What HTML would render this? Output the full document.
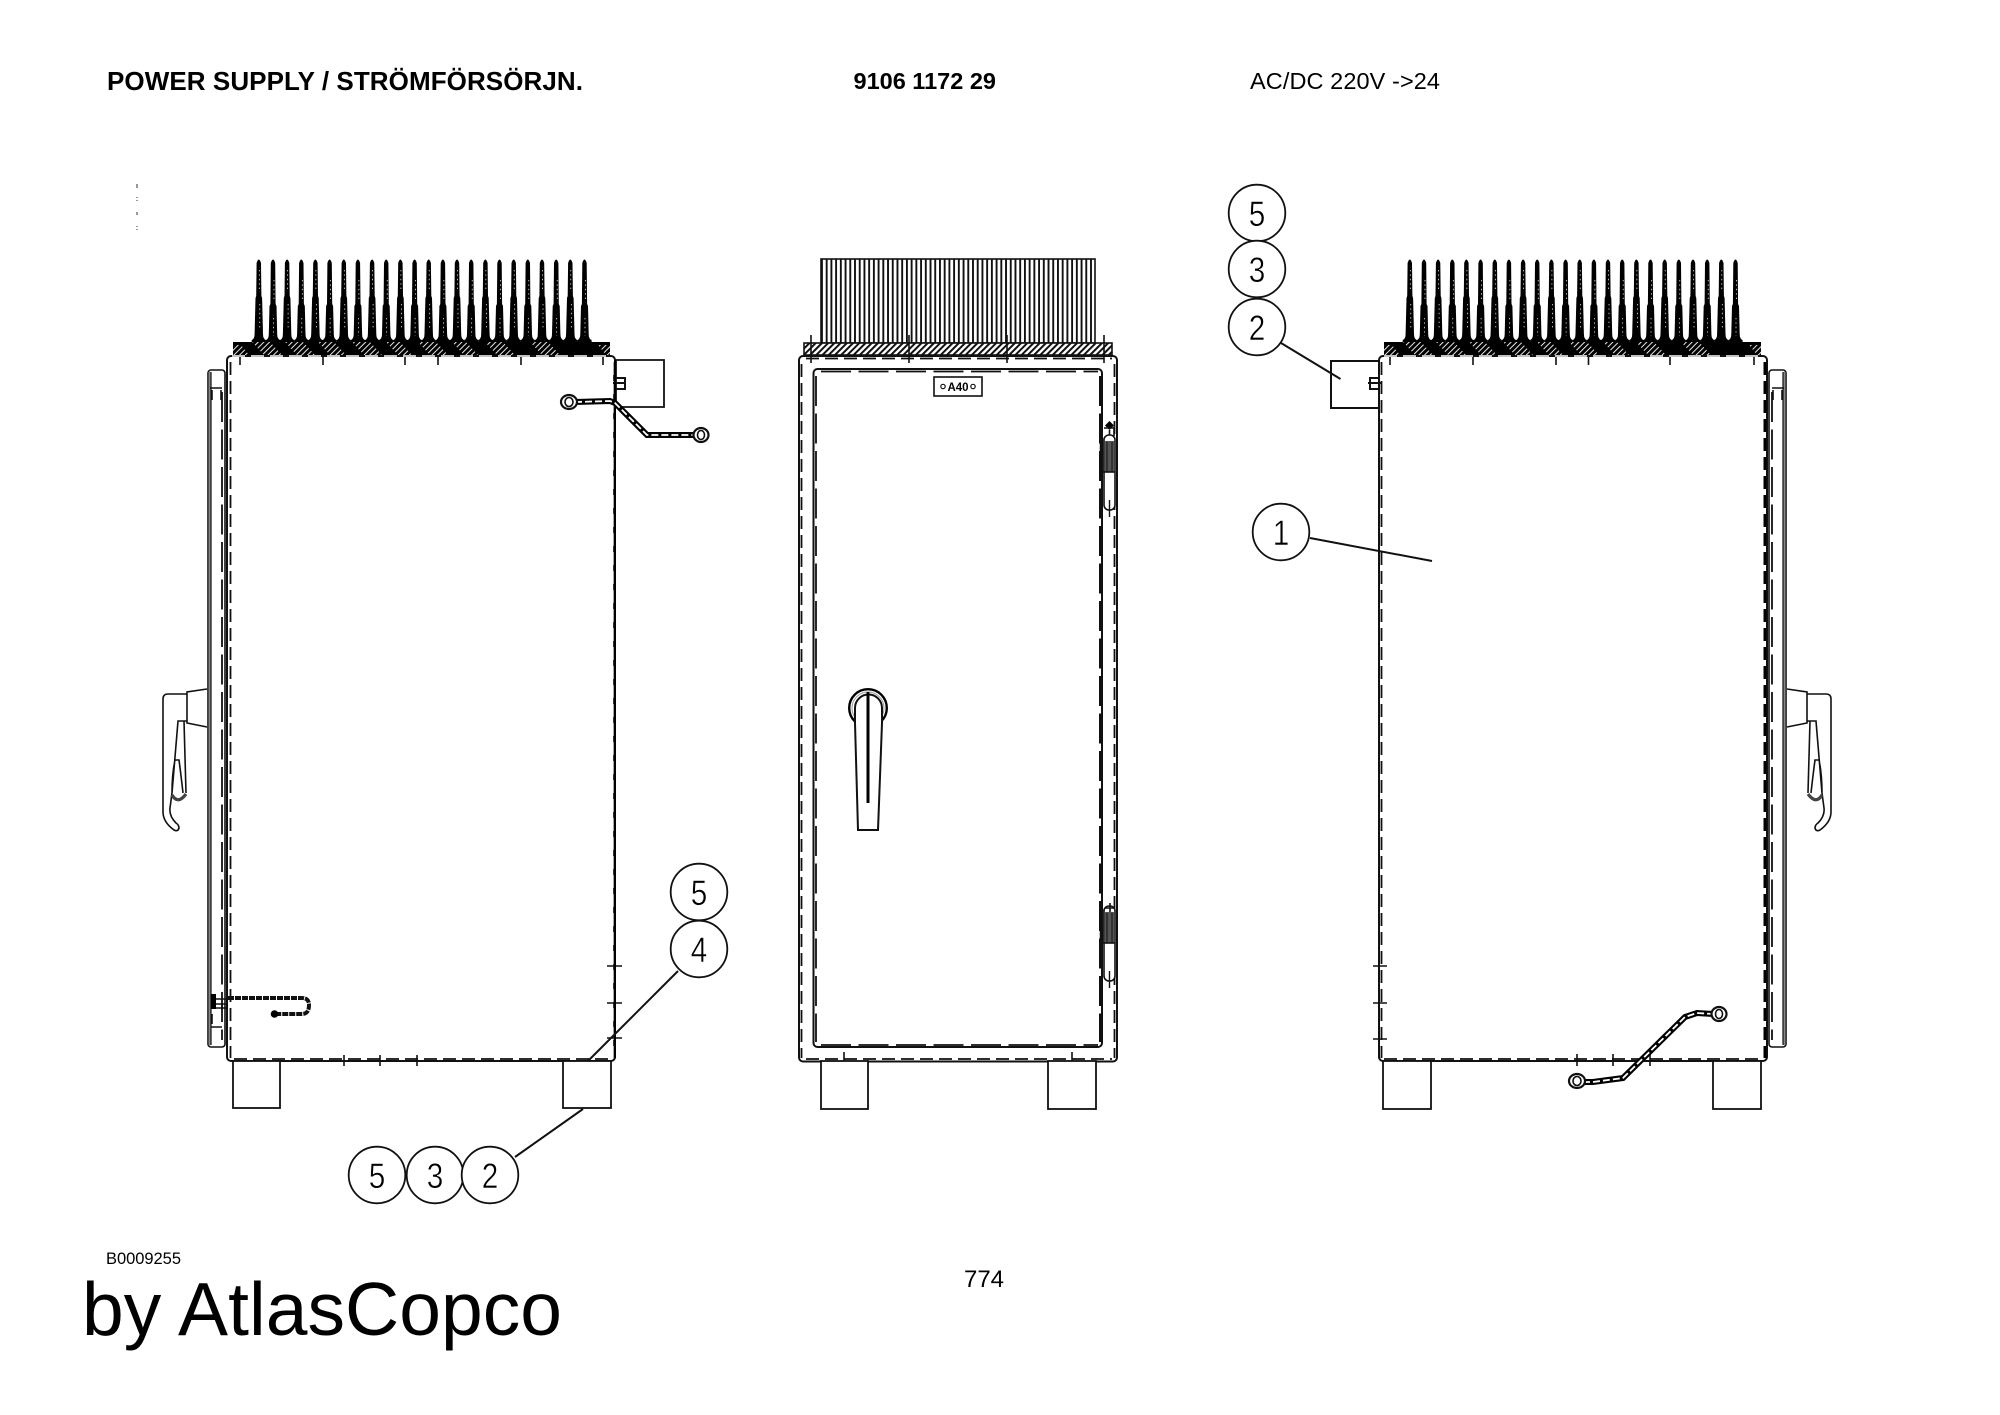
<!DOCTYPE html>
<html lang="en"><head><meta charset="utf-8"><title>Power Supply 9106 1172 29</title>
<style>
html,body{margin:0;padding:0;background:#fff;width:2000px;height:1415px;overflow:hidden}
svg{display:block}
text{font-family:"Liberation Sans",Arial,sans-serif;fill:#000}
.n{font-size:35px;stroke:#fff;stroke-width:.5px}
.l{fill:none;stroke:#111;stroke-width:2}
.t{fill:none;stroke:#111;stroke-width:1.6}
.c{fill:#fff;stroke:#111;stroke-width:1.8}
.d1{fill:none;stroke:#111;stroke-width:1.8;stroke-dasharray:13 6}
.d2{fill:none;stroke:#111;stroke-width:1.8;stroke-dasharray:30 7.5}
.d3{fill:none;stroke:#000;stroke-width:3;stroke-dasharray:13 6}
.w{fill:none;stroke:#fff;stroke-width:1.6;stroke-dasharray:13 6}
</style></head><body>
<svg width="2000" height="1415" viewBox="0 0 2000 1415" xmlns="http://www.w3.org/2000/svg">
<defs>
<pattern id="hw" width="4" height="4" patternUnits="userSpaceOnUse" patternTransform="rotate(45)"><rect width="4" height="4" fill="#000"/><rect width=".9" height="4" fill="#fff"/></pattern>
<pattern id="hb" width="4.4" height="4.4" patternUnits="userSpaceOnUse" patternTransform="rotate(45)"><rect width="4.4" height="4.4" fill="#fff"/><rect width="2" height="4.4" fill="#111"/></pattern>
<pattern id="vl" width="4.72" height="10" patternUnits="userSpaceOnUse" x="821"><rect width="4.72" height="10" fill="#fff"/><rect width="1.9" height="10" fill="#111"/></pattern>
<g id="f1"><path d="M-2.2 263Q0 256 2.2 263L2.6 296L3.300 298L4.200 334Q4.200 339 7.1 340L7.1 342L-7.1 342L-7.1 340Q-4.200 339-4.200 334L-3.300 298L-2.600 296Z" fill="#000"/><path d="M.5 270V292M1 304V330" stroke="#fff" stroke-width=".7" stroke-dasharray="1.400 3" fill="none"/></g>
<g id="f2"><path d="M-2.2 263Q0 256 2.2 263L2.600 304L3.500 306L4.200 334Q4.200 339 7.1 340L7.1 342L-7.1 342L-7.1 340Q-4.200 339-4.200 334L-3.500 306L-2.600 304Z" fill="#000"/><path d="M1 280V300M.5 318V336" stroke="#fff" stroke-width=".7" stroke-dasharray="1.400 3" fill="none"/></g>
<g id="sink">
<rect x="233" y="342" width="377" height="14" fill="#000"/>
<path d="M233 345h8l8 10h-16zM252 342h18l12 13h-18zM285 342h18l12 13h-18zM318 342h16l12 13h-16zM352 342h18l12 13h-18zM386 342h14l12 13h-14zM418 342h18l12 13h-18zM452 342h14l12 13h-14zM485 342h18l12 13h-18zM530 342h18l12 13h-18zM598 345h12v10h-4z" fill="url(#hw)"/>
<use href="#f1" x="258.8"/><use href="#f2" x="273"/><use href="#f1" x="287.1"/><use href="#f2" x="301.3"/><use href="#f1" x="315.4"/><use href="#f2" x="329.6"/><use href="#f1" x="343.8"/><use href="#f2" x="357.9"/><use href="#f1" x="372.1"/><use href="#f2" x="386.2"/><use href="#f1" x="400.4"/><use href="#f2" x="414.6"/><use href="#f1" x="428.7"/><use href="#f2" x="442.9"/><use href="#f1" x="457"/><use href="#f2" x="471.2"/><use href="#f1" x="485.4"/><use href="#f2" x="499.5"/><use href="#f1" x="513.7"/><use href="#f2" x="527.8"/><use href="#f1" x="542"/><use href="#f2" x="556.2"/><use href="#f1" x="570.3"/><use href="#f2" x="584.5"/>
</g>
<g id="handle">
<path class="t" d="M207 689L187 692L187 723L207 727"/>
<path class="t" d="M187 694H168Q163 694 163 699V812Q163 822 174 830Q178 832 179 828Q179 825 176 823Q169 816 170 808L172 793"/>
<path class="t" d="M187 721H178L172 793M184 721L186 793M175 760Q172 774 172 793M175 760H179Q181 775 183 793"/>
<path d="M172 795Q178 805 186 794" fill="none" stroke="#444" stroke-width="3.2"/>
</g>
<g id="hinge">
<rect x="1104" y="435" width="11" height="75" rx="5" fill="#fff" stroke="#111" stroke-width="1.6"/>
<rect x="1105" y="441" width="9" height="31" fill="#555"/>
<path d="M1107 442V472M1112 442V472" stroke="#111" stroke-width="1"/>
<path d="M1103 472H1115" stroke="#111" stroke-width="1.6"/>
<path d="M1101.500 438V472" stroke="#111" stroke-width="3.500"/>
<path d="M1109.500 500V517" stroke="#111" stroke-width="1.4"/>
</g>
</defs>
<rect width="2000" height="1415" fill="#fff"/>

<!-- headers -->
<text x="107" y="90" font-size="26" font-weight="700" textLength="476" lengthAdjust="spacing">POWER SUPPLY / STRÖMFÖRSÖRJN.</text>
<text x="853.500" y="89" font-size="23.500" font-weight="700">9106 1172 29</text>
<text x="1250" y="89" font-size="23.500" textLength="190" lengthAdjust="spacing">AC/DC 220V -&gt;24</text>
<text x="106" y="1264" font-size="16.500" textLength="75" lengthAdjust="spacing">B0009255</text>
<text x="82" y="1335" font-size="75" textLength="480" lengthAdjust="spacing">by AtlasCopco</text>
<text x="964" y="1287" font-size="24" textLength="40" lengthAdjust="spacing">774</text>

<!-- specks -->
<path d="M137 184v4M137 197v1M137 200v1M137 212v3M137 226v1M137 229v1" stroke="#555" stroke-width="1.2"/>

<!-- LEFT CABINET -->
<use href="#sink"/>
<rect x="208" y="370" width="17" height="677" rx="3" class="t"/>
<path d="M209.500 372V1045" stroke="#888" stroke-width="2"/><path d="M211 372V1045" stroke="#111" stroke-width="1.200"/>
<path class="t" d="M210 388H222M212 390V400M221 390V400"/>
<path class="d2" d="M222 392V1040"/>
<rect x="227" y="356" width="388" height="705" rx="4" class="l" fill="#fff"/>
<path class="d1" d="M230.500 362V1058"/>
<path class="d1" d="M234 1059H612"/>
<path class="w" d="M232 356H612"/>
<path d="M614.500 362V1058" stroke="#000" stroke-width="2.600"/>
<path d="M613 362V1058" stroke="#fff" stroke-width="1.300" stroke-dasharray="13 6"/>
<path class="t" d="M240 357V365M323 357V365M405 357V365M438 357V365M521 357V365M603 357V365M344 1055V1066M380 1055V1066M417 1055V1066M607 966H622M607 1003H622M607 1038H622"/>
<path class="c" d="M616 360H664V407H616Z"/>
<path class="l" d="M615 378H625V389H615M613 383H626" stroke-width="1.800"/>
<rect x="233" y="1061" width="47" height="47" class="c"/>
<rect x="563" y="1061" width="48" height="47" class="c"/>
<path d="M615 360V1058" stroke="#000" stroke-width="2"/>
<!-- left cable -->
<path d="M575 402L610 401L615 403L647 435L695 435" fill="none" stroke="#000" stroke-width="6"/>
<path d="M575 402L610 401L615 403L647 435L695 435" fill="none" stroke="#fff" stroke-width="1.800" stroke-dasharray="7 3"/>
<ellipse cx="569" cy="402" rx="8" ry="7" fill="#fff" stroke="#111" stroke-width="2.200"/><ellipse cx="569" cy="402" rx="4" ry="4.500" fill="#fff" stroke="#111" stroke-width="1.600"/>
<ellipse cx="701" cy="435" rx="7.500" ry="7" fill="#fff" stroke="#111" stroke-width="2.200"/><ellipse cx="701" cy="435" rx="3.500" ry="4.500" fill="#fff" stroke="#111" stroke-width="1.600"/>
<!-- door-bottom chain -->
<rect x="211" y="994" width="5" height="15" fill="#000"/>
<path class="t" d="M216 999H228M216 1004H228M216 1008H228M211 1027H222M212 1014V1024M222 1004V1010"/>
<path d="M228 998H302Q309 998 309 1005Q309 1014 302 1014H274" fill="none" stroke="#111" stroke-width="4" stroke-dasharray="6 1"/>
<circle cx="274.500" cy="1014" r="3.800" fill="#000"/>
<!-- left handle -->
<use href="#handle"/>
<!-- left balloons -->
<path class="l" d="M678 971L588 1061M515 1157L583 1109"/>
<circle cx="699" cy="892" r="28.300" class="c"/><text class="n" text-anchor="middle" transform="translate(699 905) scale(.85 1)">5</text>
<circle cx="699" cy="949" r="28.300" class="c"/><text class="n" text-anchor="middle" transform="translate(699 962) scale(.85 1)">4</text>
<circle cx="377" cy="1175" r="28.300" class="c"/><text class="n" text-anchor="middle" transform="translate(377 1188) scale(.85 1)">5</text>
<circle cx="435" cy="1175" r="28.300" class="c"/><text class="n" text-anchor="middle" transform="translate(435 1188) scale(.85 1)">3</text>
<circle cx="490" cy="1175" r="28.300" class="c"/><text class="n" text-anchor="middle" transform="translate(490 1188) scale(.85 1)">2</text>

<!-- CENTER CABINET -->
<rect x="821" y="259" width="274" height="84" fill="url(#vl)" stroke="#111" stroke-width="1.600"/>
<rect x="804" y="343" width="308" height="12" fill="url(#hb)" stroke="#111" stroke-width="1.600"/>
<rect x="799" y="356" width="318" height="705.500" rx="4" class="l"/>
<path class="d1" d="M801.500 364V1058M1114.500 364V1058M806 1059H1112M806 358.500H1112"/>
<rect x="813.500" y="369" width="288.500" height="678" rx="4" class="l"/>
<path class="d2" d="M816 376V1042M821 371.500H1098M821 1045H1098"/>
<path d="M1100.500 376V1042" fill="none" stroke="#111" stroke-width="3" stroke-dasharray="30 7.500"/>
<path class="t" d="M811 335V363M909 335V363M1007 335V363M1104 335V363M844 1052V1069M1072 1052V1069"/>
<rect x="821" y="1061" width="47" height="48" class="c"/>
<rect x="1048" y="1061" width="48" height="48" class="c"/>
<rect x="934" y="377" width="48" height="19" fill="#fff" stroke="#111" stroke-width="1.600"/>
<circle cx="943" cy="386.500" r="2.200" fill="none" stroke="#111" stroke-width="1.200"/><circle cx="973" cy="386.500" r="2.200" fill="none" stroke="#111" stroke-width="1.200"/>
<text x="958" y="391" font-size="11.500" font-weight="700" text-anchor="middle">A40</text>
<!-- hinges -->
<path d="M1109.500 421L1114 425.500L1109.500 430L1105 425.500Z" fill="#000"/>
<path class="t" d="M1109.500 430V436M1104 428H1114V436" stroke-width="1.200"/>
<use href="#hinge"/>
<use href="#hinge" y="471"/>
<path class="t" d="M1110 903V912M1105 908H1115"/>
<!-- handle center -->
<circle cx="868" cy="708" r="18.800" fill="none" stroke="#000" stroke-width="2.400"/>
<circle cx="868" cy="708" r="16" fill="none" stroke="#999" stroke-width="1"/>
<path d="M855 723L858 830H878L882 723V708A13.500 13.500 0 0 0 855 708Z" fill="#fff" stroke="#111" stroke-width="2"/>
<path d="M868 692V803" stroke="#000" stroke-width="3"/>

<!-- RIGHT CABINET -->
<use href="#sink" x="1151"/>
<rect x="1769" y="370" width="17" height="677" rx="3" class="t"/>
<path d="M1784.500 372V1045" stroke="#888" stroke-width="2"/><path d="M1783 372V1045" stroke="#111" stroke-width="1.200"/>
<path class="t" d="M1772 388H1784M1773 390V400M1782 390V400"/>
<path class="d2" d="M1772 392V1040"/>
<rect x="1379" y="356" width="388" height="705" rx="4" class="l" fill="#fff"/>
<path class="d1" d="M1381.500 362V1058"/>
<path class="d1" d="M1384 1059H1762"/>
<path class="w" d="M1384 356H1762"/>
<path d="M1765 362V1058" fill="none" stroke="#000" stroke-width="3" stroke-dasharray="13 6"/>
<path class="t" d="M1390 357V365M1473 357V365M1556 357V365M1588.500 357V365M1670 357V365M1754 357V365M1577 1054V1066M1613 1054V1066M1650 1054V1066M1373 966H1387M1373 1003H1387M1373 1039H1387"/>
<path class="l" d="M1378 361H1331V408H1378" stroke-width="1.800"/>
<path class="l" d="M1380 378H1370V389H1380M1368 383H1381" stroke-width="1.800"/>
<rect x="1383" y="1061" width="48" height="48" class="c"/>
<rect x="1713" y="1061" width="48" height="48" class="c"/>
<path d="M1583 1082L1593 1082L1623 1078L1685 1017L1697 1013L1713 1014" fill="none" stroke="#000" stroke-width="6"/>
<path d="M1583 1082L1593 1082L1623 1078L1685 1017L1697 1013L1713 1014" fill="none" stroke="#fff" stroke-width="1.800" stroke-dasharray="7 3"/>
<ellipse cx="1577" cy="1081" rx="8" ry="7" fill="#fff" stroke="#111" stroke-width="2.200"/><ellipse cx="1577" cy="1081" rx="4" ry="4.500" fill="#fff" stroke="#111" stroke-width="1.600"/>
<ellipse cx="1719" cy="1014" rx="7.500" ry="7" fill="#fff" stroke="#111" stroke-width="2.200"/><ellipse cx="1719" cy="1014" rx="3.500" ry="4.500" fill="#fff" stroke="#111" stroke-width="1.600"/>
<use href="#handle" transform="translate(1994 0) scale(-1 1)"/>
<!-- right balloons -->
<path class="l" d="M1281 343L1340.500 379M1310 538L1432 561"/>
<circle cx="1257" cy="213" r="28.300" class="c"/><text class="n" text-anchor="middle" transform="translate(1257 226) scale(.85 1)">5</text>
<circle cx="1257" cy="269" r="28.300" class="c"/><text class="n" text-anchor="middle" transform="translate(1257 282) scale(.85 1)">3</text>
<circle cx="1257" cy="327" r="28.300" class="c"/><text class="n" text-anchor="middle" transform="translate(1257 340) scale(.85 1)">2</text>
<circle cx="1281" cy="532" r="28.300" class="c"/><text class="n" text-anchor="middle" transform="translate(1281 545) scale(.85 1)">1</text>
</svg>
</body></html>
